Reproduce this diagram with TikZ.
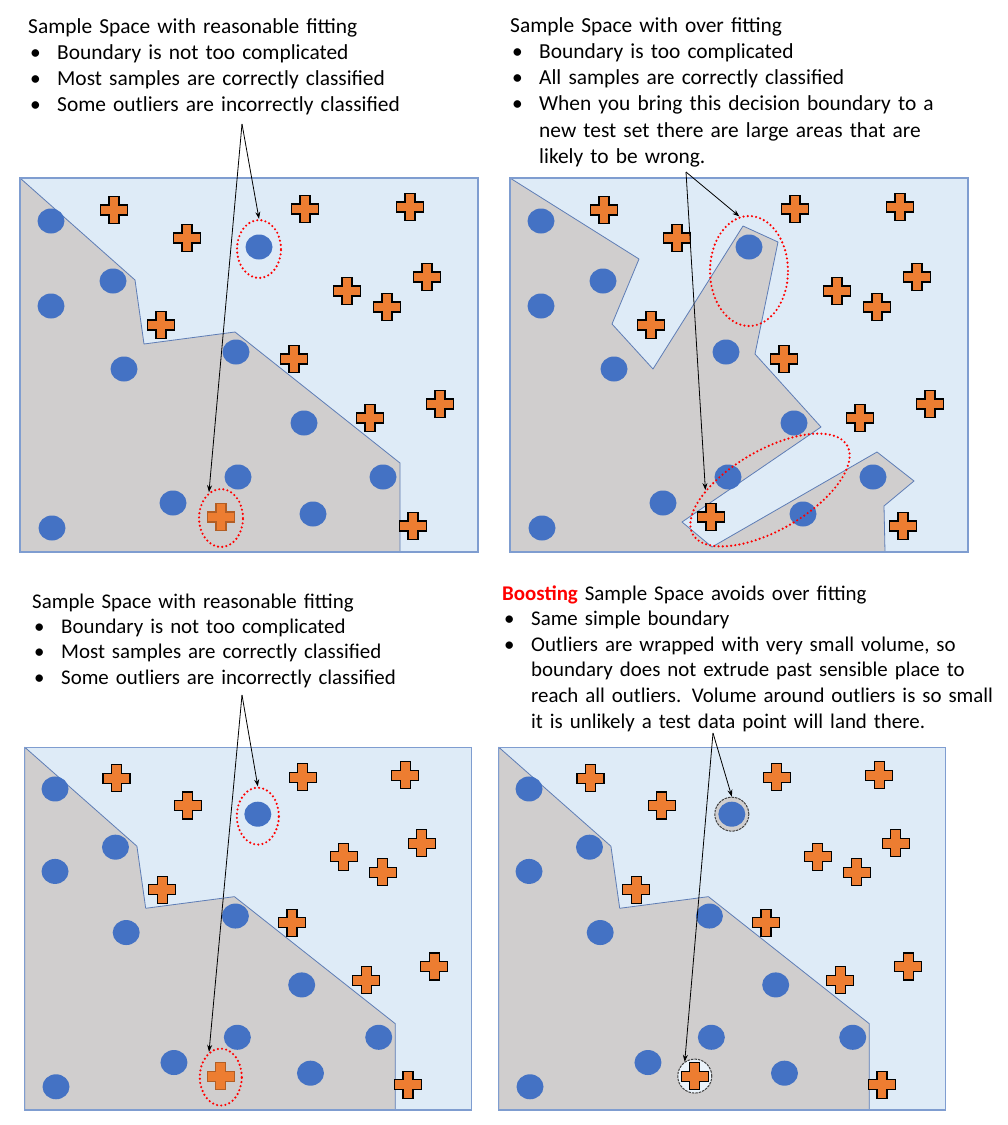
\documentclass[tikz,border=0pt]{standalone}
\usepackage{fontspec}
\setmainfont{Carlito}
\usetikzlibrary{shapes.geometric,arrows.meta}

\definecolor{spaceblue}{HTML}{DEEBF7}
\definecolor{spacegray}{HTML}{D0CECE}
\definecolor{dotblue}{HTML}{4472C4}
\definecolor{plusorange}{HTML}{ED7D31}
\definecolor{framecol}{HTML}{7F9DD0}
\definecolor{edgecol}{HTML}{5E7DB6}
\definecolor{boostred}{HTML}{FF0000}

\newcommand{\bul}{\makebox[29pt][l]{\hspace{2pt}\textbullet}}
\newcommand{\cont}{\hspace*{29pt}}

% samples, placed as in the top left panel
\newcommand{\dotlist}{51/221, 113/281, 51/306, 259/247, 124/369, 236/352, 304/423, 238/477, 173/503, 313/514, 383/477, 52/528}
\newcommand{\pluslist}{114/210, 187/238, 305/209, 410/207, 427/277, 347/291, 387/307, 161/325, 294/359, 370/418, 440/404, 413/526}

\tikzset{
  dotmark/.style={ellipse, fill=dotblue, minimum width=27pt, minimum height=25pt, inner sep=0pt},
  pics/plusmark/.style={code={
    \filldraw[fill=plusorange, draw=#1, line width=1.1pt, line join=miter]
      (-5,-13.5) -- (5,-13.5) -- (5,-5) -- (13.5,-5) -- (13.5,5) -- (5,5) -- (5,13.5)
      -- (-5,13.5) -- (-5,5) -- (-13.5,5) -- (-13.5,-5) -- (-5,-5) -- cycle;
  }},
  pics/plusmark/.default=black,
  outlier/.style={ellipse, draw=red, line width=2.4pt, dash pattern=on 0pt off 4.2pt, line cap=round, inner sep=0pt},
  wrapring/.style={circle, minimum size=34pt, inner sep=0pt, draw=black!75, line width=1pt, dash pattern=on 2.5pt off 1pt},
  pointer/.style={draw=black, line width=0.8pt, -{Stealth[length=7pt,width=5pt]}},
  panelframe/.style={draw=framecol, line width=1.2pt},
  region/.style={fill=spacegray, draw=edgecol, line width=0.8pt, line join=round},
  note/.style={anchor=base west, inner sep=0pt, text width=500pt, align=left}
}

\newcommand{\samples}[1]{%
  \foreach \x/\y [count=\k] in \dotlist {\node[dotmark] (#1d\k) at (\x,\y) {};}
  \foreach \x/\y [count=\k] in \pluslist {\pic (#1p\k) at (\x,\y) {plusmark};}
}

\begin{document}
\begin{tikzpicture}[x=1pt,y=-1pt]
\useasboundingbox[fill=white] (0,0) rectangle (1008,1125);

% top left: reasonable fitting
\begin{scope}
  \fill[spaceblue] (20,178) rectangle (478,552);
  \filldraw[region] (20,178) -- (135,280) -- (144,344) -- (235,332) -- (400,463) -- (400,552) -- (20,552) -- cycle;
  \samples{A}
  \pic (Aout) at (221,517) {plusmark=plusorange!75!black};
  \node[outlier, minimum width=44pt, minimum height=58pt] (A-o1) at (259,249) {};
  \node[outlier, minimum width=44pt, minimum height=58pt] (A-o2) at (221,518) {};
  \draw[panelframe] (20,178) rectangle (478,552);
\end{scope}

% top right: over fitting
\begin{scope}[shift={(490,0)}]
  \fill[spaceblue] (20,178) rectangle (478,552);
  \filldraw[region] (20,178) -- (149,259) -- (122,324) -- (163,369) -- (253,226) -- (288,242) -- (265,354)
    -- (331,427) -- (192,522) -- (222,547) -- (387,452) -- (424,481) -- (394,506) -- (395,552) -- (20,552) -- cycle;
  \samples{B}
  \pic (Bout) at (221,517) {plusmark};
  \node[outlier, minimum width=78pt, minimum height=110pt] (B-o1) at (259,271) {};
  \node[outlier, minimum width=178pt, minimum height=80pt, rotate=30] (B-o2) at (280,490) {};
  \draw[panelframe] (20,178) rectangle (478,552);
\end{scope}

% bottom left: reasonable fitting again
\begin{scope}[shift={(5.3,574.6)}, xscale=0.975, yscale=0.97]
  \fill[spaceblue] (20,178) rectangle (478,552);
  \filldraw[region] (20,178) -- (135,280) -- (144,344) -- (235,332) -- (400,463) -- (400,552) -- (20,552) -- cycle;
  \samples{C}
  \pic (Cout) at (221,517) {plusmark=plusorange!75!black};
  \node[outlier, minimum width=42pt, minimum height=57pt] (C-o1) at (259,249) {};
  \node[outlier, minimum width=42pt, minimum height=57pt] (C-o2) at (221,518) {};
  \draw[panelframe] (20,178) rectangle (478,552);
\end{scope}

% bottom right: boosting
\begin{scope}[shift={(479.3,574.6)}, xscale=0.975, yscale=0.97]
  \fill[spaceblue] (20,178) rectangle (478,552);
  \filldraw[region] (20,178) -- (135,280) -- (144,344) -- (235,332) -- (400,463) -- (400,552) -- (20,552) -- cycle;
  \node[wrapring, fill=spacegray] (D-r1) at (259,247) {};
  \node[wrapring, fill=spaceblue!60!white] (D-r2) at (221,517) {};
  \samples{D}
  \pic (Dout) at (221,517) {plusmark};
  \draw[panelframe] (20,178) rectangle (478,552);
\end{scope}

\node[note, font=\fontsize{21.4}{26.3}\selectfont] (A-text) at (28,33) {Sample Space with reasonable fitting\\
\bul Boundary is not too complicated\\
\bul Most samples are correctly classified\\
\bul Some outliers are incorrectly classified};

\node[note, font=\fontsize{21.4}{26.3}\selectfont] (B-text) at (510,32) {Sample Space with over fitting\\
\bul Boundary is too complicated\\
\bul All samples are correctly classified\\
\bul When you bring this decision boundary to a\\
\cont new test set there are large areas that are\\
\cont likely to be wrong.};

\node[note, font=\fontsize{20.9}{25.4}\selectfont] (C-text) at (32,608) {Sample Space with reasonable fitting\\
\bul Boundary is not too complicated\\
\bul Most samples are correctly classified\\
\bul Some outliers are incorrectly classified};

\node[note, font=\fontsize{20.9}{25.6}\selectfont] (D-text) at (502,600) {\textcolor{boostred}{\bfseries Boosting} Sample Space avoids over fitting\\
\bul Same simple boundary\\
\bul Outliers are wrapped with very small volume, so\\
\cont boundary does not extrude past sensible place to\\
\cont reach all outliers. Volume around outliers is so small\\
\cont it is unlikely a test data point will land there.};

\coordinate (A-src) at (242,124);
\draw[pointer] (A-src) -- (A-o1.north);
\draw[pointer] (A-src) -- (A-o2.115);

\coordinate (B-src) at (686,172);
\draw[pointer] (B-src) -- (B-o1.100);
\draw[pointer] (B-src) -- (B-o2.150);

\coordinate (C-src) at (242,695);
\draw[pointer] (C-src) -- (C-o1.north);
\draw[pointer] (C-src) -- (C-o2.115);

\coordinate (D-src) at (713,733);
\draw[pointer] (D-src) -- (D-r1.north);
\draw[pointer] (D-src) -- (D-r2.125);
\end{tikzpicture}
\end{document}
